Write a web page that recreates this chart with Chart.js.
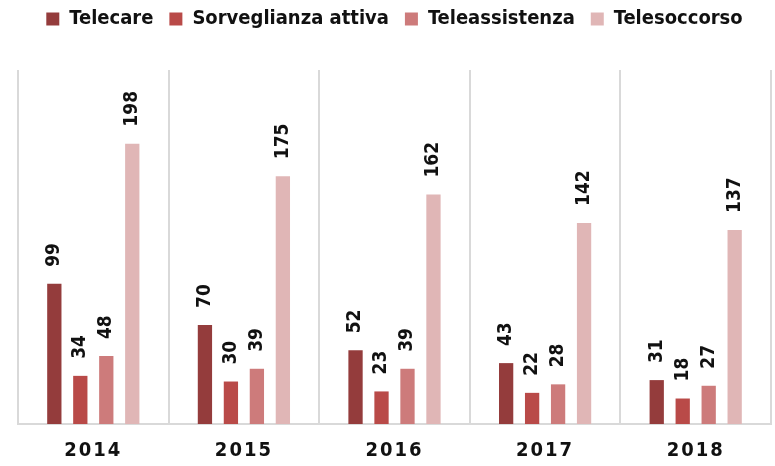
<!DOCTYPE html>
<html>
<head>
<meta charset="utf-8">
<script src="https://cdn.jsdelivr.net/npm/chart.js@4"></script>
<style>
  html, body { margin: 0; padding: 0; background: #fff; }
  #wrap { width: 775px; height: 466px; }
</style>
</head>
<body>
<div id="wrap"><canvas id="myChart" width="775" height="466"></canvas></div>
<script>
const years = ['2014', '2015', '2016', '2017', '2018'];
const telecare = [99, 70, 52, 43, 31];
const sorveglianza = [34, 30, 23, 22, 18];
const teleassistenza = [48, 39, 39, 28, 27];
const telesoccorso = [198, 175, 162, 142, 137];

const FONT = "'DejaVu Sans Condensed', 'Liberation Sans Narrow', sans-serif";

// rotated value labels above each bar
const valueLabels = {
    id: 'valueLabels',
    afterDatasetsDraw(chart) {
        const ctx = chart.ctx;
        ctx.save();
        ctx.fillStyle = '#111';
        ctx.font = 'bold 19px ' + FONT;
        ctx.textAlign = 'left';
        ctx.textBaseline = 'middle';
        chart.data.datasets.forEach((ds, i) => {
            chart.getDatasetMeta(i).data.forEach((bar, j) => {
                ctx.save();
                ctx.translate(bar.x, bar.y - 17);
                ctx.rotate(-Math.PI / 2);
                ctx.fillText(String(ds.data[j]), 0, 0);
                ctx.restore();
            });
        });
        ctx.restore();
    }
};

// push the plot down below the legend, and space out the year labels
const layoutTweaks = {
    id: 'layoutTweaks',
    beforeInit(chart) {
        const fit = chart.legend.fit;
        chart.legend.fit = function() {
            fit.bind(chart.legend)();
            this.height = 77;
        };
    },
    afterLayout(chart) {
        const x = chart.scales.x;
        if (x._spaced) return;
        const draw = x.drawLabels;
        x.drawLabels = function(area) {
            chart.ctx.save();
            chart.ctx.letterSpacing = '2px';
            draw.call(this, area);
            chart.ctx.restore();
        };
        x._spaced = true;
    }
};

const ctx = document.getElementById('myChart').getContext('2d');

new Chart(ctx, {
    type: 'bar',
    data: {
        labels: years,
        datasets: [
            { label: 'Telecare', data: telecare, backgroundColor: '#943c3c' },
            { label: 'Sorveglianza attiva', data: sorveglianza, backgroundColor: '#b94a48' },
            { label: 'Teleassistenza', data: teleassistenza, backgroundColor: '#cd7b7b' },
            { label: 'Telesoccorso', data: telesoccorso, backgroundColor: '#e0b6b6' },
        ],
    },
    options: {
        responsive: false,
        animation: false,
        layout: { padding: { left: 18, right: 4, top: -7, bottom: -12 } },
        datasets: {
            bar: { categoryPercentage: 0.69, barPercentage: 0.55 }
        },
        plugins: {
            legend: {
                position: 'top',
                labels: {
                    boxWidth: 13,
                    boxHeight: 13,
                    padding: 16,
                    color: '#111',
                    font: { family: FONT, size: 20, weight: 'bold' },
                },
            },
            tooltip: { enabled: false },
        },
        scales: {
            x: {
                grid: {
                    offset: true,
                    color: '#d9d9d9',
                    lineWidth: 2,
                    drawTicks: false,
                },
                border: { color: '#d9d9d9', width: 2 },
                ticks: {
                    color: '#111',
                    padding: 15,
                    font: { family: FONT, size: 20, weight: 'bold' },
                },
            },
            y: {
                display: false,
                min: 0,
                max: 250,
            },
        },
    },
    plugins: [valueLabels, layoutTweaks],
});
</script>
</body>
</html>
